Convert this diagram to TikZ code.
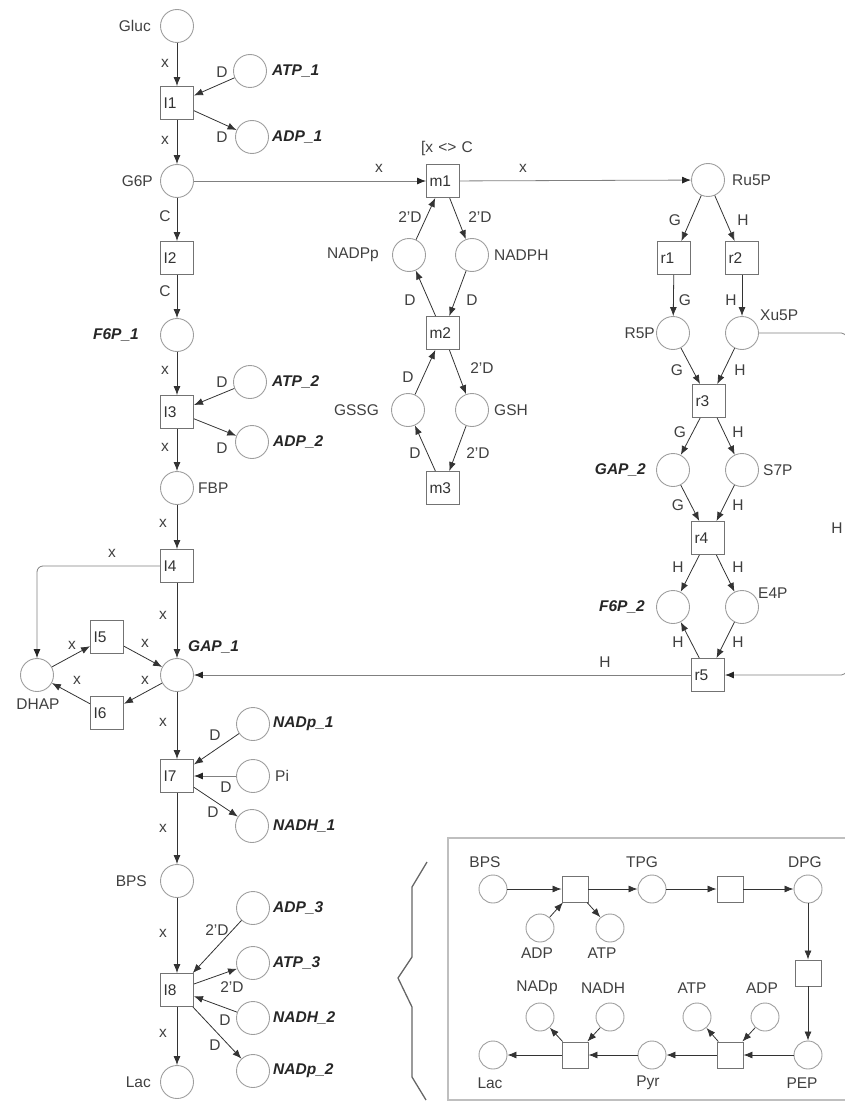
\documentclass[tikz,border=0pt]{standalone}
\usepackage{fontspec}
\setmainfont{Liberation Sans}
\usetikzlibrary{arrows.meta}
\newcommand\myfs{\fontsize{15.5}{18}\selectfont}
\newcommand\tlab[1]{\makebox[31pt][l]{\hspace{2pt}#1}}
\begin{document}
\begin{tikzpicture}[x=1pt,y=-1pt,
  place/.style={circle,draw=black!38,line width=0.9pt,minimum size=33pt,inner sep=0pt},
  trans/.style={rectangle,draw=black!55,line width=0.9pt,minimum size=33pt,inner sep=0pt,font=\myfs,text=black!80},
  iplace/.style={circle,draw=black!38,line width=0.9pt,minimum size=28pt,inner sep=0pt},
  itrans/.style={rectangle,draw=black!55,line width=0.9pt,minimum size=26pt,inner sep=0pt},
  cpnarc/.style={draw=black!80,line width=0.8pt,-{Latex[length=9pt,width=7pt]}},
  cpnarcL/.style={draw=black!50,line width=0.8pt,-{Latex[length=9pt,width=7pt,color=black!85]}},
  lbl/.style={font=\myfs,text=black!75,inner sep=0pt},
  blbl/.style={font=\myfs\bfseries\itshape,text=black!85,inner sep=0pt},
  al/.style={font=\myfs,text=black!75,inner sep=0pt},
  frame/.style={draw=black!25,line width=2.2pt},
  zig/.style={draw=black!60,line width=1.3pt}
]
\useasboundingbox (0,0) rectangle (845,1102);

% ---------- main column ----------
\node[place] (Gluc) at (177,26) {};
\node[trans] (I1) at (177,103) {\tlab{I1}};
\node[place] (ATP1) at (250,71) {};
\node[place] (ADP1) at (252,137) {};
\node[place] (G6P) at (177,181) {};
\node[trans] (I2) at (177,258) {\tlab{I2}};
\node[place] (F6P1) at (177,335) {};
\node[trans] (I3) at (177,412) {\tlab{I3}};
\node[place] (ATP2) at (250,382) {};
\node[place] (ADP2) at (252,442) {};
\node[place] (FBP) at (177,488) {};
\node[trans] (I4) at (177,566) {\tlab{I4}};
\node[place] (GAP1) at (177,675) {};
\node[place] (DHAP) at (37,675) {};
\node[trans] (I5) at (107,637) {\tlab{I5}};
\node[trans] (I6) at (107,713) {\tlab{I6}};
\node[trans] (I7) at (177,776) {\tlab{I7}};
\node[place] (NADp1) at (253,724) {};
\node[place] (Pi) at (253,776) {};
\node[place] (NADH1) at (252,826) {};
\node[place] (BPS) at (177,881) {};
\node[trans] (I8) at (177,990) {\tlab{I8}};
\node[place] (ADP3) at (253,908) {};
\node[place] (ATP3) at (253,963) {};
\node[place] (NADH2) at (253,1018) {};
\node[place] (NADp2) at (253,1071) {};
\node[place] (Lac) at (177,1082) {};

% labels main
\node[lbl,anchor=east] (lGluc) at (151,26) {Gluc};
\node[blbl,anchor=west] (lATP1) at (272,71) {ATP\_1};
\node[blbl,anchor=west] (lADP1) at (272,137) {ADP\_1};
\node[lbl,anchor=east] (lG6P) at (153,181) {G6P};
\node[blbl,anchor=east] (lF6P1) at (139,335) {F6P\_1};
\node[blbl,anchor=west] (lATP2) at (272,382) {ATP\_2};
\node[blbl,anchor=west] (lADP2) at (273,442) {ADP\_2};
\node[lbl,anchor=west] (lFBP) at (198,488) {FBP};
\node[blbl,anchor=west] (lGAP1) at (188,647) {GAP\_1};
\node[lbl] (lDHAP) at (38,704) {DHAP};
\node[blbl,anchor=west] (lNADp1) at (273,724) {NADp\_1};
\node[lbl,anchor=west] (lPi) at (275,776) {Pi};
\node[blbl,anchor=west] (lNADH1) at (273,826) {NADH\_1};
\node[lbl,anchor=east] (lBPS) at (147,881) {BPS};
\node[blbl,anchor=west] (lADP3) at (273,908) {ADP\_3};
\node[blbl,anchor=west] (lATP3) at (273,963) {ATP\_3};
\node[blbl,anchor=west] (lNADH2) at (273,1018) {NADH\_2};
\node[blbl,anchor=west] (lNADp2) at (273,1071) {NADp\_2};
\node[lbl,anchor=east] (lLac) at (151,1082) {Lac};

% arcs main
\draw[cpnarc] (Gluc) -- (I1);
\draw[cpnarc] (ATP1) -- (I1);
\draw[cpnarc] (I1) -- (ADP1);
\draw[cpnarc] (I1) -- (G6P);
\draw[cpnarc] (G6P) -- (I2);
\draw[cpnarc] (I2) -- (F6P1);
\draw[cpnarc] (F6P1) -- (I3);
\draw[cpnarc] (ATP2) -- (I3);
\draw[cpnarc] (I3) -- (ADP2);
\draw[cpnarc] (I3) -- (FBP);
\draw[cpnarc] (FBP) -- (I4);
\draw[cpnarc] (I4) -- (GAP1);
\draw[cpnarcL,rounded corners=6pt] (I4.west) -| (DHAP.north);
\draw[cpnarc] (DHAP) -- (I5);
\draw[cpnarc] (I5) -- (GAP1);
\draw[cpnarc] (GAP1) -- (I6);
\draw[cpnarc] (I6) -- (DHAP);
\draw[cpnarc] (GAP1) -- (I7);
\draw[cpnarc] (NADp1) -- (I7);
\draw[cpnarcL] (Pi) -- (I7);
\draw[cpnarc] (I7) -- (NADH1);
\draw[cpnarc] (I7) -- (BPS);
\draw[cpnarc] (BPS) -- (I8);
\draw[cpnarc] (ADP3) -- (I8);
\draw[cpnarc] (I8) -- (ATP3);
\draw[cpnarc] (NADH2) -- (I8);
\draw[cpnarc] (I8) -- (NADp2);
\draw[cpnarc] (I8) -- (Lac);

% arc labels main
\node[al] (a1) at (165,63) {x};
\node[al] (a2) at (222,72) {D};
\node[al] (a3) at (165,140) {x};
\node[al] (a4) at (222,137) {D};
\node[al] (a5) at (165,216) {C};
\node[al] (a6) at (165,291) {C};
\node[al] (a7) at (165,370) {x};
\node[al] (a8) at (222,382) {D};
\node[al] (a9) at (165,447) {x};
\node[al] (a10) at (222,448) {D};
\node[al] (a11) at (163,523) {x};
\node[al] (a12) at (112,553) {x};
\node[al] (a13) at (163,615) {x};
\node[al] (a14) at (72,645) {x};
\node[al] (a15) at (145,643) {x};
\node[al] (a16) at (77,680) {x};
\node[al] (a17) at (145,680) {x};
\node[al] (a18) at (163,722) {x};
\node[al] (a19) at (215,735) {D};
\node[al] (a20) at (226,787) {D};
\node[al] (a21) at (213,812) {D};
\node[al] (a22) at (163,828) {x};
\node[al] (a23) at (163,933) {x};
\node[al] (a24) at (217,930) {2'D};
\node[al] (a25) at (232,987) {2'D};
\node[al] (a26) at (225,1020) {D};
\node[al] (a27) at (215,1045) {D};
\node[al] (a28) at (163,1033) {x};

% ---------- middle ----------
\node[trans] (m1) at (443,181) {\tlab{m1}};
\node[place] (NADPp) at (409,255) {};
\node[place] (NADPH) at (472,255) {};
\node[trans] (m2) at (443,333) {\tlab{m2}};
\node[place] (GSSG) at (408,410) {};
\node[place] (GSH) at (472,410) {};
\node[trans] (m3) at (443,488) {\tlab{m3}};

\node[lbl] (guard) at (447,148) {[x\,\,<>\,\,C};
\node[lbl,anchor=east] (lNADPp) at (379,255) {NADPp};
\node[lbl,anchor=west] (lNADPH) at (494,255) {NADPH};
\node[lbl,anchor=east] (lGSSG) at (379,410) {GSSG};
\node[lbl,anchor=west] (lGSH) at (494,410) {GSH};

\draw[cpnarcL] (G6P) -- (m1);
\draw[cpnarc] (NADPp) -- (m1);
\draw[cpnarc] (m1) -- (NADPH);
\draw[cpnarc] (NADPH) -- (m2);
\draw[cpnarc] (m2) -- (NADPp);
\draw[cpnarc] (GSSG) -- (m2);
\draw[cpnarc] (m2) -- (GSH);
\draw[cpnarc] (GSH) -- (m3);
\draw[cpnarc] (m3) -- (GSSG);

\node[al] (b1) at (379,168) {x};
\node[al] (b2) at (523,168) {x};
\node[al] (b3) at (410,217) {2'D};
\node[al] (b4) at (480,217) {2'D};
\node[al] (b5) at (410,300) {D};
\node[al] (b6) at (472,300) {D};
\node[al] (b7) at (408,377) {D};
\node[al] (b8) at (482,368) {2'D};
\node[al] (b9) at (415,453) {D};
\node[al] (b10) at (478,453) {2'D};

% ---------- right ----------
\node[place] (Ru5P) at (708,180) {};
\node[trans] (r1) at (674,258) {\tlab{r1}};
\node[trans] (r2) at (742,258) {\tlab{r2}};
\node[place] (R5P) at (673,333) {};
\node[place] (Xu5P) at (742,333) {};
\node[trans] (r3) at (709,401) {\tlab{r3}};
\node[place] (GAP2) at (673,470) {};
\node[place] (S7P) at (742,470) {};
\node[trans] (r4) at (708,538) {\tlab{r4}};
\node[place] (F6P2) at (673,607) {};
\node[place] (E4P) at (742,607) {};
\node[trans] (r5) at (708,675) {\tlab{r5}};

\node[lbl,anchor=west] (lRu5P) at (732,180) {Ru5P};
\node[lbl,anchor=east] (lR5P) at (655,333) {R5P};
\node[lbl,anchor=west] (lXu5P) at (760,315) {Xu5P};
\node[blbl,anchor=east] (lGAP2) at (646,470) {GAP\_2};
\node[lbl,anchor=west] (lS7P) at (763,470) {S7P};
\node[blbl,anchor=east] (lF6P2) at (645,607) {F6P\_2};
\node[lbl,anchor=west] (lE4P) at (758,593) {E4P};

\draw[cpnarcL] (m1) -- (Ru5P);
\draw[cpnarc] (Ru5P) -- (r1);
\draw[cpnarc] (Ru5P) -- (r2);
\draw[cpnarc] (r1) -- (R5P);
\draw[cpnarc] (r2) -- (Xu5P);
\draw[cpnarc] (R5P) -- (r3);
\draw[cpnarc] (Xu5P) -- (r3);
\draw[cpnarc] (r3) -- (GAP2);
\draw[cpnarc] (r3) -- (S7P);
\draw[cpnarc] (GAP2) -- (r4);
\draw[cpnarc] (S7P) -- (r4);
\draw[cpnarc] (r4) -- (F6P2);
\draw[cpnarc] (r4) -- (E4P);
\draw[cpnarc] (r5) -- (F6P2);
\draw[cpnarc] (E4P) -- (r5);
\coordinate (cR) at (846.5,500);
\draw[cpnarcL,rounded corners=5pt] (Xu5P.east) -- (Xu5P.east -| cR) -- (r5.east -| cR) -- (r5.east);
\draw[cpnarcL] (r5) -- (GAP1);

\node[al] (c1) at (675,220) {G};
\node[al] (c2) at (743,220) {H};
\node[al] (c3) at (685,300) {G};
\node[al] (c4) at (731,300) {H};
\node[al] (c5) at (677,370) {G};
\node[al] (c6) at (740,370) {H};
\node[al] (c7) at (680,432) {G};
\node[al] (c8) at (738,432) {H};
\node[al] (c9) at (678,505) {G};
\node[al] (c10) at (738,505) {H};
\node[al] (c11) at (678,567) {H};
\node[al] (c12) at (738,567) {H};
\node[al] (c13) at (678,642) {H};
\node[al] (c14) at (738,642) {H};
\node[al] (c15) at (605,662) {H};
\node[al] (c16) at (837,528) {H};

% ---------- inset ----------
\draw[frame] (846,838) -- (448,838) -- (448,1100) -- (846,1100);
\draw[zig] (427,862) -- (412,887) -- (412,957) -- (398,978) -- (412,1007) -- (412,1077) -- (426,1100);

\node[iplace] (iBPS) at (493,889) {};
\node[itrans] (iT1) at (575,889) {};
\node[iplace] (iTPG) at (652,889) {};
\node[itrans] (iT2) at (730,889) {};
\node[iplace] (iDPG) at (808,889) {};
\node[iplace] (iADPa) at (540,928) {};
\node[iplace] (iATPa) at (610,928) {};
\node[itrans] (iT3) at (808,973) {};
\node[iplace] (iPEP) at (808,1055) {};
\node[itrans] (iT4) at (730,1055) {};
\node[iplace] (iATPb) at (697,1017) {};
\node[iplace] (iADPb) at (765,1017) {};
\node[iplace] (iPyr) at (652,1055) {};
\node[itrans] (iT5) at (575,1055) {};
\node[iplace] (iNADp) at (540,1017) {};
\node[iplace] (iNADH) at (610,1017) {};
\node[iplace] (iLac) at (493,1055) {};

\node[lbl] (liBPS) at (485,862) {BPS};
\node[lbl] (liTPG) at (642,862) {TPG};
\node[lbl] (liDPG) at (805,862) {DPG};
\node[lbl] (liADPa) at (537,953) {ADP};
\node[lbl] (liATPa) at (602,953) {ATP};
\node[lbl] (liATPb) at (692,988) {ATP};
\node[lbl] (liADPb) at (762,988) {ADP};
\node[lbl] (liNADp) at (537,988) {NADp};
\node[lbl] (liNADH) at (603,988) {NADH};
\node[lbl] (liLac) at (490,1083) {Lac};
\node[lbl] (liPyr) at (648,1083) {Pyr};
\node[lbl] (liPEP) at (802,1083) {PEP};

\draw[cpnarc] (iBPS) -- (iT1);
\draw[cpnarc] (iT1) -- (iTPG);
\draw[cpnarc] (iTPG) -- (iT2);
\draw[cpnarc] (iT2) -- (iDPG);
\draw[cpnarc] (iDPG) -- (iT3);
\draw[cpnarc] (iT3) -- (iPEP);
\draw[cpnarc] (iPEP) -- (iT4);
\draw[cpnarc] (iT4) -- (iPyr);
\draw[cpnarc] (iPyr) -- (iT5);
\draw[cpnarc] (iT5) -- (iLac);
\draw[cpnarc] (iADPa) -- (iT1);
\draw[cpnarc] (iT1) -- (iATPa);
\draw[cpnarc] (iT4) -- (iATPb);
\draw[cpnarc] (iADPb) -- (iT4);
\draw[cpnarc] (iT5) -- (iNADp);
\draw[cpnarc] (iNADH) -- (iT5);
\end{tikzpicture}
\end{document}
